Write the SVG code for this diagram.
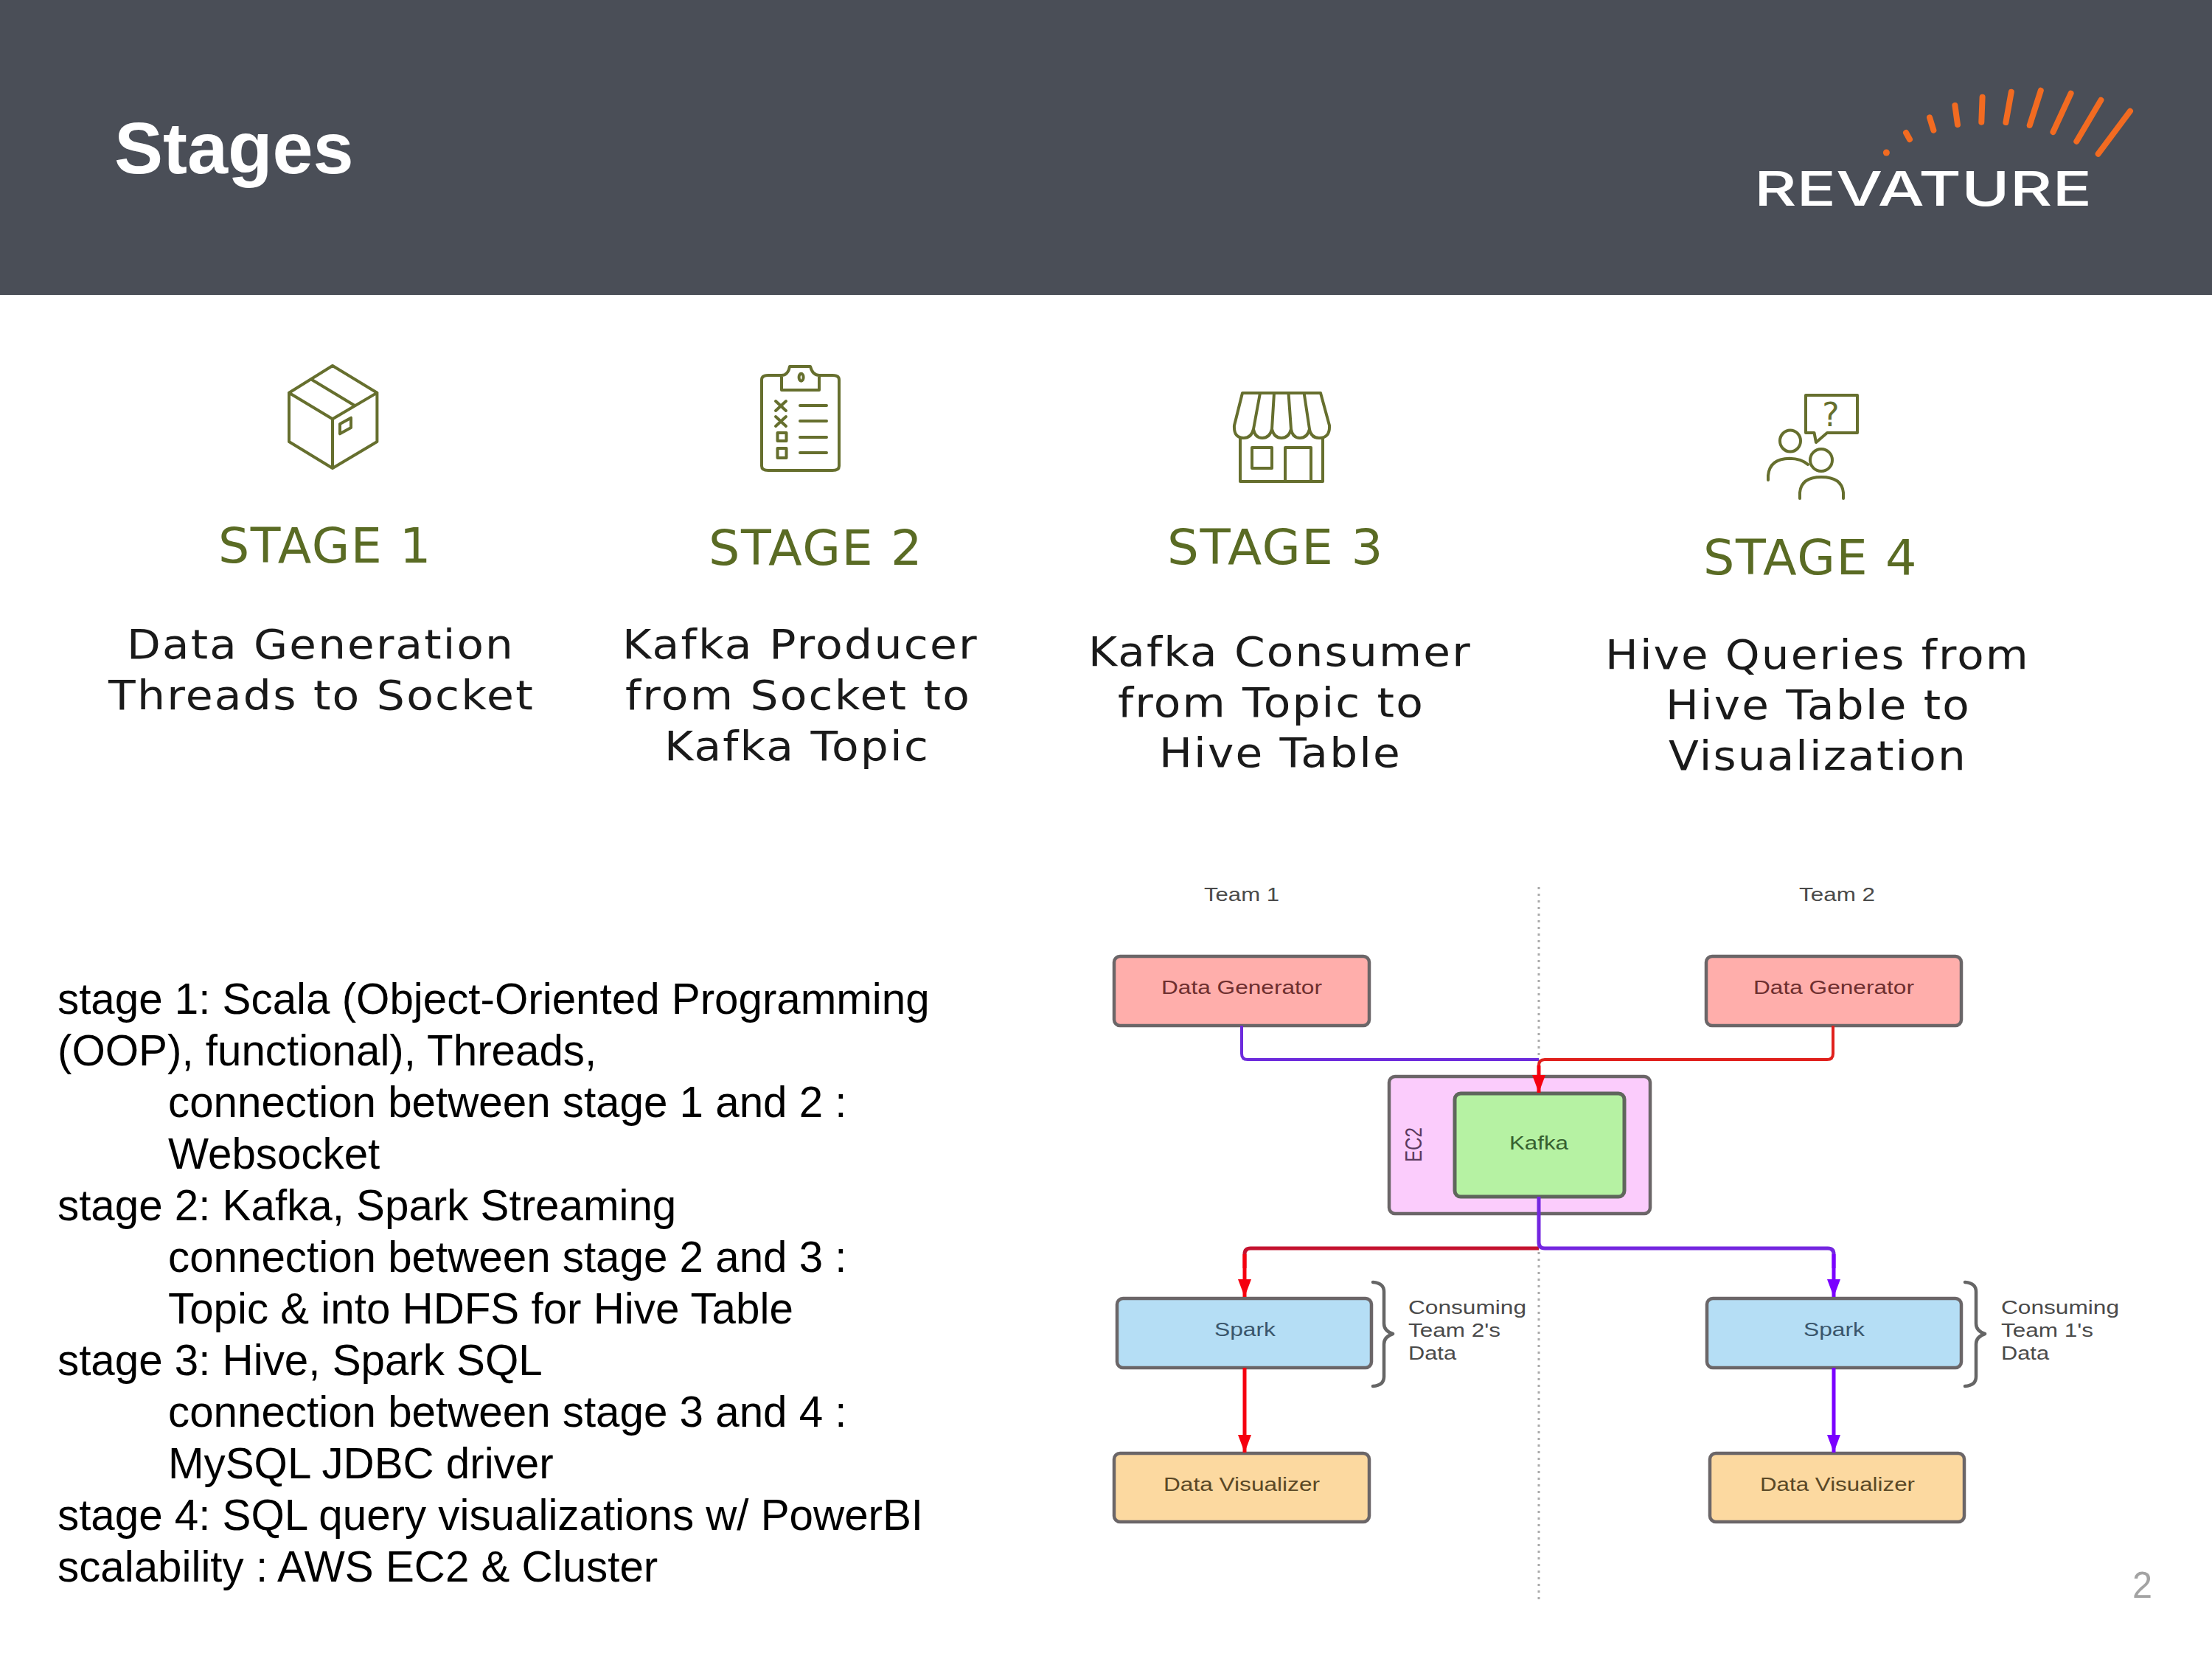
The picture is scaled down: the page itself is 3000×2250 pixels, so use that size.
<svg xmlns="http://www.w3.org/2000/svg" width="3000" height="2250" viewBox="0 0 3000 2250">
<style>
text{font-family:"Liberation Sans",Arial,sans-serif}
.dv{font-family:"DejaVu Sans",sans-serif}
.st{font-size:65px;fill:#5a6b24;letter-spacing:1.5px}
.ds{font-size:55px;fill:#1a1a1a;letter-spacing:2px}
.bd{font-size:58.3px;fill:#000}
.lb{font-size:25px;fill:#4a4a4a}
.ic{fill:none;stroke:#666f2e;stroke-width:4;stroke-linejoin:round;stroke-linecap:round}
.tick{stroke:#f26b21;stroke-width:8;stroke-linecap:round;fill:none}
.box{stroke:#6b6668;stroke-width:4.5}
.dg{fill:#ffaeab}.dgt{fill:#6e2f2f}
.sp{fill:#b5def5}.spt{fill:#3a566c}
.dz{fill:#fcd9a0}.dzt{fill:#5a4826}
.brace{fill:none;stroke:#666;stroke-width:4.5;stroke-linecap:round;stroke-linejoin:round}
.cn{fill:none;stroke-width:5}
.thin{stroke-width:4}
</style>
<defs>
<marker id="hr" markerUnits="userSpaceOnUse" markerWidth="18" markerHeight="24" refX="9" refY="24" viewBox="0 0 18 24"><path d="M0 0H18L9 24Z" fill="#f5000f"/></marker>
<marker id="hp" markerUnits="userSpaceOnUse" markerWidth="18" markerHeight="24" refX="9" refY="24" viewBox="0 0 18 24"><path d="M0 0H18L9 24Z" fill="#7a00ff"/></marker>
</defs>
<rect width="3000" height="2250" fill="#fff"/>
<g id="header">
<rect width="3000" height="400" fill="#4a4e57"/>
<text x="155" y="235" font-size="99" font-weight="700" fill="#fff">Stages</text>
</g>
<g id="logo">
<circle cx="2558.4" cy="207" r="4.5" fill="#f26b21"/>
<path class="tick" d="M2585 180L2590 189M2617 159.3L2622.4 176.7M2651.4 143L2655 169M2688.6 131.7L2687.3 165.7M2727.8 124.7L2720.4 166M2767.8 122.7L2752.7 170M2808.6 126.7L2784.5 179M2849.4 135.7L2816.3 191.7M2889 150.7L2845.7 208.7"/>
<text x="2379" y="279" font-size="65" font-weight="500" fill="#fff" textLength="458" lengthAdjust="spacingAndGlyphs" style="font-family:Inter,sans-serif">REVATURE</text>
</g>
<g id="stage1">
<path class="ic" d="M451 496L392 532.7L451 568.3L511.4 532.7ZM392 532.7V599L451 635L511.4 599V532.7M451 568.3V635M421.8 514.3L481 550M461 575L476 566.7V580L461 588.3Z"/>
<text class="dv st" x="296" y="763" textLength="290" lengthAdjust="spacingAndGlyphs">STAGE 1</text>
<text class="dv ds" x="172" y="893" textLength="526" lengthAdjust="spacingAndGlyphs">Data Generation</text>
<text class="dv ds" x="147" y="962" textLength="578" lengthAdjust="spacingAndGlyphs">Threads to Socket</text>
</g>
<g id="stage2">
<path class="ic" d="M1060 509H1042Q1033 509 1033 515V632Q1033 638 1042 638H1129Q1138 638 1138 632V515Q1138 509 1129 509H1111M1060 509V529H1111V509Q1102 509 1099 497H1071Q1069 509 1060 509Z"/>
<ellipse class="ic" cx="1086.6" cy="511.7" rx="3" ry="5"/>
<path class="ic" d="M1052 544L1066 557M1066 544L1052 557M1052 565L1066 578M1066 565L1052 578M1085 550H1121M1085 571H1121M1085 593H1121M1085 614H1121"/>
<rect class="ic" x="1054.5" y="587" width="12" height="11"/><rect class="ic" x="1054.5" y="608" width="12" height="13"/>
<text class="dv st" x="961" y="766" textLength="291" lengthAdjust="spacingAndGlyphs">STAGE 2</text>
<text class="dv ds" x="844" y="893" textLength="483" lengthAdjust="spacingAndGlyphs">Kafka Producer</text>
<text class="dv ds" x="848" y="962" textLength="469" lengthAdjust="spacingAndGlyphs">from Socket to</text>
<text class="dv ds" x="901" y="1031" textLength="360" lengthAdjust="spacingAndGlyphs">Kafka Topic</text>
</g>
<g id="stage3">
<path class="ic" d="M1685 533H1791L1803 577Q1804 594 1789 594Q1778 594 1776 582Q1773 594 1763 594Q1753 594 1751 582Q1748 594 1738 594Q1728 594 1725 582Q1722 594 1712 594Q1702 594 1700 582Q1697 594 1687 594Q1673 594 1674 577ZM1709 533L1700 582M1728 533L1725 582M1747.5 533L1751 582M1768.6 533L1776 582M1682 594V653H1794V594M1743 653V607H1778V653"/>
<rect class="ic" x="1698" y="607" width="27" height="28"/>
<text class="dv st" x="1583" y="765" textLength="294" lengthAdjust="spacingAndGlyphs">STAGE 3</text>
<text class="dv ds" x="1476" y="903" textLength="520" lengthAdjust="spacingAndGlyphs">Kafka Consumer</text>
<text class="dv ds" x="1516" y="972" textLength="416" lengthAdjust="spacingAndGlyphs">from Topic to</text>
<text class="dv ds" x="1572" y="1040" textLength="329" lengthAdjust="spacingAndGlyphs">Hive Table</text>
</g>
<g id="stage4">
<path class="ic" d="M2449 536H2519V587H2478L2463 600L2460.5 587H2449Z"/>
<text class="dv" x="2483" y="578" font-size="44" text-anchor="middle" fill="#666f2e">?</text>
<ellipse class="ic" cx="2428" cy="598" rx="14" ry="14.5"/>
<path class="ic" d="M2398 651V645Q2400 622 2427 621.7Q2443 622 2452 630"/>
<ellipse class="ic" cx="2470" cy="624" rx="15" ry="15"/>
<path class="ic" d="M2441 676V668Q2443 647 2470 647Q2498 647 2500 668V676"/>
<text class="dv st" x="2310" y="779" textLength="291" lengthAdjust="spacingAndGlyphs">STAGE 4</text>
<text class="dv ds" x="2177" y="907" textLength="576" lengthAdjust="spacingAndGlyphs">Hive Queries from</text>
<text class="dv ds" x="2259" y="975" textLength="414" lengthAdjust="spacingAndGlyphs">Hive Table to</text>
<text class="dv ds" x="2263" y="1044" textLength="405" lengthAdjust="spacingAndGlyphs">Visualization</text>
</g>
<g id="notes">
<text class="bd" x="78" y="1375">stage 1: Scala (Object-Oriented Programming</text>
<text class="bd" x="78" y="1445">(OOP), functional), Threads,</text>
<text class="bd" x="228" y="1515">connection between stage 1 and 2 :</text>
<text class="bd" x="228" y="1585">Websocket</text>
<text class="bd" x="78" y="1655">stage 2: Kafka, Spark Streaming</text>
<text class="bd" x="228" y="1725">connection between stage 2 and 3 :</text>
<text class="bd" x="228" y="1795">Topic &amp; into HDFS for Hive Table</text>
<text class="bd" x="78" y="1865">stage 3: Hive, Spark SQL</text>
<text class="bd" x="228" y="1935">connection between stage 3 and 4 :</text>
<text class="bd" x="228" y="2005">MySQL JDBC driver</text>
<text class="bd" x="78" y="2075">stage 4: SQL query visualizations w/ PowerBI</text>
<text class="bd" x="78" y="2145">scalability : AWS EC2 &amp; Cluster</text>
</g>
<path id="divider" d="M2087 1203V2175" stroke="#aaa" stroke-width="3" stroke-dasharray="3 6" fill="none"/>
<text class="lb" x="1633" y="1222" textLength="102" lengthAdjust="spacingAndGlyphs">Team 1</text>
<text class="lb" x="2440" y="1222" textLength="103" lengthAdjust="spacingAndGlyphs">Team 2</text>
<g id="dg1"><rect class="box dg" x="1511" y="1297" width="346" height="94" rx="8"/><text class="lb dgt" x="1575" y="1348" textLength="218" lengthAdjust="spacingAndGlyphs">Data Generator</text></g>
<g id="dg2"><rect class="box dg" x="2314" y="1297" width="346" height="94" rx="8"/><text class="lb dgt" x="2378" y="1348" textLength="218" lengthAdjust="spacingAndGlyphs">Data Generator</text></g>
<g id="ec2"><rect class="box" fill="#fbccfc" x="1884" y="1460" width="354" height="186" rx="8"/><text font-size="24" fill="#5a3a5e" transform="translate(1928 1576) rotate(-90) scale(1 1.33)" textLength="47" lengthAdjust="spacingAndGlyphs">EC2</text></g>
<g id="kafka"><rect fill="#b6f2a3" stroke="#5f665c" stroke-width="5" x="1973" y="1483" width="230" height="140" rx="8"/><text class="lb" style="fill:#36602f" x="2047" y="1559" textLength="80" lengthAdjust="spacingAndGlyphs">Kafka</text></g>
<g id="spark1"><rect class="box sp" x="1515" y="1761" width="345" height="94" rx="8"/><text class="lb spt" x="1647" y="1812" textLength="83" lengthAdjust="spacingAndGlyphs">Spark</text></g>
<g id="spark2"><rect class="box sp" x="2315" y="1761" width="345" height="94" rx="8"/><text class="lb spt" x="2446" y="1812" textLength="83" lengthAdjust="spacingAndGlyphs">Spark</text></g>
<g id="viz1"><rect class="box dz" x="1511" y="1971" width="346" height="93" rx="8"/><text class="lb dzt" x="1578" y="2022" textLength="212" lengthAdjust="spacingAndGlyphs">Data Visualizer</text></g>
<g id="viz2"><rect class="box dz" x="2319" y="1971" width="345" height="93" rx="8"/><text class="lb dzt" x="2387" y="2022" textLength="210" lengthAdjust="spacingAndGlyphs">Data Visualizer</text></g>
<g id="note1">
<path class="brace" d="M1862 1739Q1877 1740 1877 1752V1795Q1877 1805 1889 1809Q1877 1813 1877 1823V1867Q1877 1879 1862 1880"/>
<text class="lb" x="1910" y="1782" textLength="160" lengthAdjust="spacingAndGlyphs">Consuming</text>
<text class="lb" x="1910" y="1813" textLength="125" lengthAdjust="spacingAndGlyphs">Team 2's</text>
<text class="lb" x="1910" y="1844" textLength="65" lengthAdjust="spacingAndGlyphs">Data</text>
</g>
<g id="note2">
<path class="brace" d="M2665 1739Q2680 1740 2680 1752V1795Q2680 1805 2692 1809Q2680 1813 2680 1823V1867Q2680 1879 2665 1880"/>
<text class="lb" x="2714" y="1782" textLength="160" lengthAdjust="spacingAndGlyphs">Consuming</text>
<text class="lb" x="2714" y="1813" textLength="125" lengthAdjust="spacingAndGlyphs">Team 1's</text>
<text class="lb" x="2714" y="1844" textLength="65" lengthAdjust="spacingAndGlyphs">Data</text>
</g>
<g id="connectors">
<path class="cn thin" stroke="#6d2bdc" d="M1684 1391V1429Q1684 1437 1692 1437H2087"/>
<path class="cn thin" stroke="#e0211d" d="M2486 1391V1429Q2486 1437 2478 1437H2095Q2087 1437 2087 1445V1470"/>
<path class="cn" stroke="#f5000f" marker-end="url(#hr)" d="M2087 1445V1482"/>
<path class="cn" stroke="#c4122f" d="M2087 1693H1696Q1688 1693 1688 1701V1720"/>
<path class="cn" stroke="#f5000f" marker-end="url(#hr)" d="M1688 1701V1759"/>
<path class="cn" stroke="#7426e0" d="M2087 1623V1685Q2087 1693 2095 1693H2479Q2487 1693 2487 1701V1720"/>
<path class="cn" stroke="#7a00ff" marker-end="url(#hp)" d="M2487 1701V1759"/>
<path class="cn" stroke="#f5000f" marker-end="url(#hr)" d="M1688 1855V1970"/>
<path class="cn" stroke="#7a00ff" marker-end="url(#hp)" d="M2487 1855V1970"/>
</g>
<text x="2892" y="2167" font-size="50" fill="#a3a3a3" textLength="27" lengthAdjust="spacingAndGlyphs">2</text>
</svg>
